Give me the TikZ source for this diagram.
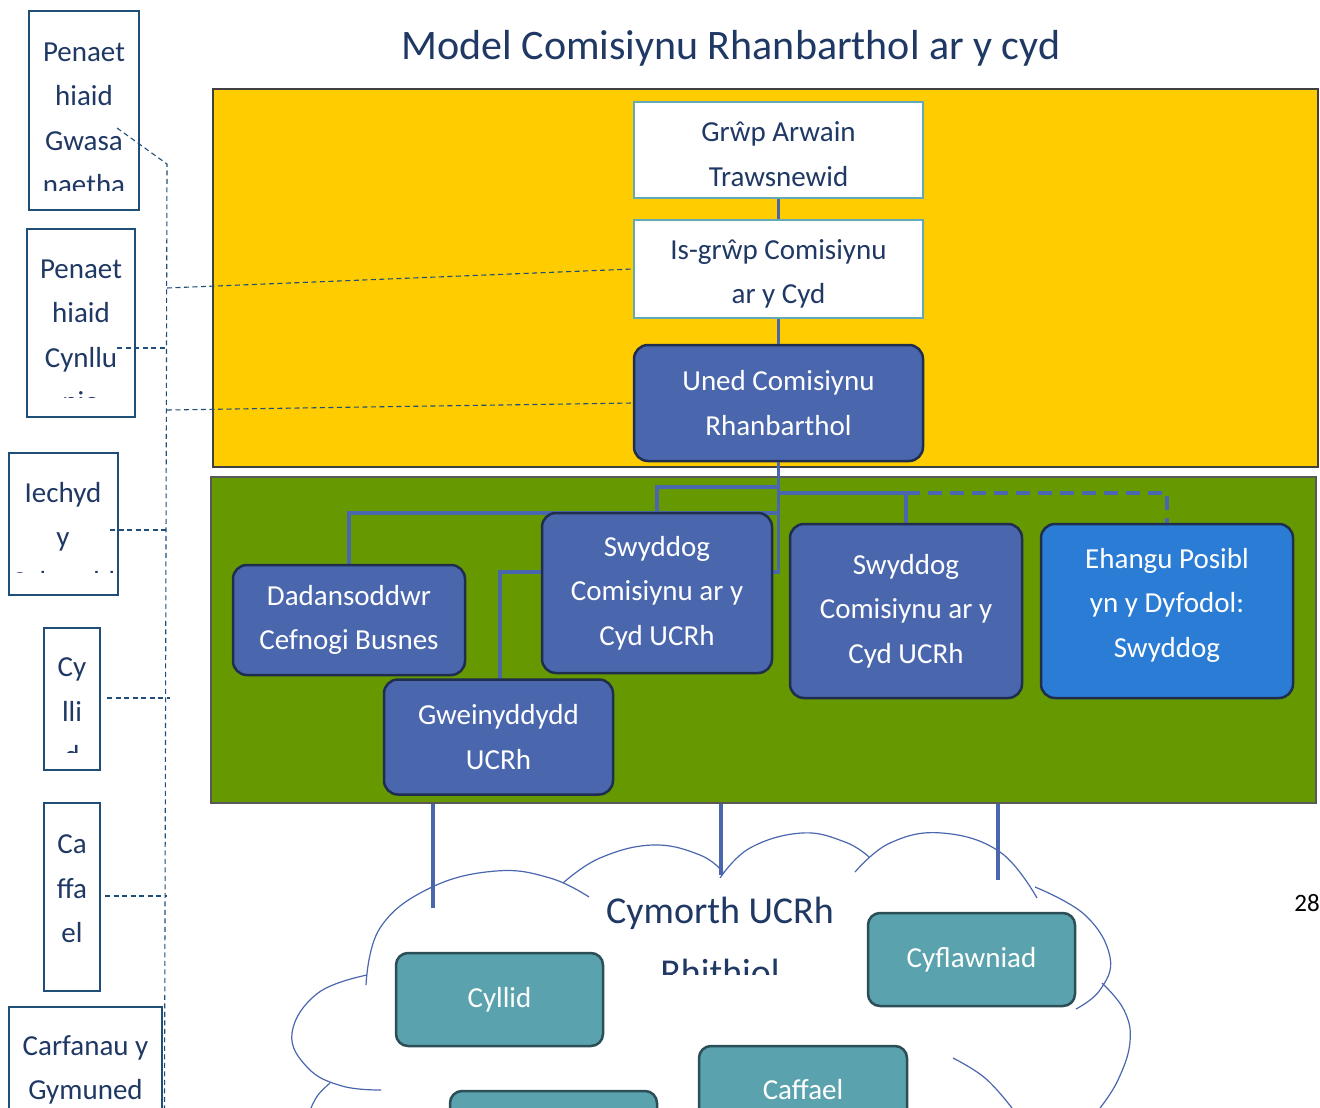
\documentclass[tikz,border=0pt]{standalone}
\usepackage{fontspec}
\setmainfont{Carlito}
\definecolor{navy}{HTML}{1F3864}
\definecolor{yelc}{HTML}{FFCC00}
\definecolor{grnc}{HTML}{669900}
\definecolor{wbord}{HTML}{62A9BA}
\definecolor{ublue}{HTML}{4A67AE}
\definecolor{bbord}{HTML}{1F2D4F}
\definecolor{ehb}{HTML}{2B7CD4}
\definecolor{teala}{HTML}{5AA2AD}
\definecolor{tbord}{HTML}{2C4E56}
\definecolor{lbord}{HTML}{1F4E79}
\begin{document}
\begin{tikzpicture}[x=1pt,y=-1pt,
  txt/.style={font=\fontsize{29}{44.5}\selectfont, align=center},
  wbox/.style={draw=wbord, line width=2pt, fill=white, inner sep=0pt},
  wtxt/.style={txt, text=navy, inner sep=0pt},
  bbox/.style={draw=bbord, line width=2.5pt, fill=ublue, text=white, rounded corners=14pt, txt, inner sep=0pt},
  btxt/.style={txt, text=white, inner sep=0pt},
  tbox/.style={draw=tbord, line width=2.5pt, fill=teala, text=white, rounded corners=12pt, txt, inner sep=0pt},
  lbox/.style={draw=lbord, line width=2pt, fill=white, inner sep=0pt},
  ltxt/.style={txt, text=navy, inner sep=0pt},
  conn/.style={draw=ublue, line width=3.5pt},
  dconn/.style={conn, dash pattern=on 14pt off 8pt},
  side/.style={draw=lbord, line width=1.1pt, dash pattern=on 5pt off 3.5pt},
  cloudl/.style={draw=ublue, line width=1.2pt}]
\clip (0,0) rectangle (1320,1108);
\fill[white] (0,0) rectangle (1320,1108);

% title
\node[font=\fontsize{42}{50}\selectfont, text=navy, inner sep=0pt] (title) at (731,48) {Model Comisiynu Rhanbarthol ar y cyd};

% panels
\node[draw=black!75, fill=yelc, line width=2.5pt, minimum width=1105, minimum height=378, inner sep=0pt] (yel) at (765.5,278) {};
\node[draw=black!65, fill=grnc, line width=2.5pt, minimum width=1105, minimum height=326, inner sep=0pt] (grn) at (763.5,640) {};

% cloud
\draw[cloudl] plot[smooth, tension=0.7] coordinates {(366,985) (380,928) (430,888) (496,871) (550,878) (589,897)};
\draw[cloudl] plot[smooth, tension=0.7] coordinates {(563,883) (600,858) (653,845) (700,855) (723,872)};
\draw[cloudl] plot[smooth, tension=0.7] coordinates {(720,878) (750,848) (802,833) (845,842) (869,857)};
\draw[cloudl] plot[smooth, tension=0.7] coordinates {(855,872) (890,843) (942,833) (1000,852) (1037,898)};
\draw[cloudl] plot[smooth, tension=0.7] coordinates {(1035,887) (1085,915) (1110,957) (1100,990) (1076,1009)};
\draw[cloudl] plot[smooth, tension=0.7] coordinates {(1102,983) (1124,1010) (1130,1042) (1118,1080) (1100,1108)};
\draw[cloudl] plot[smooth, tension=0.7] coordinates {(953,1058) (985,1078) (1012,1108)};
\draw[cloudl] plot[smooth, tension=0.7] coordinates {(367,975) (318,993) (292,1033) (308,1068) (342,1086) (381,1090)};
\draw[cloudl] plot[smooth, tension=0.7] coordinates {(330,1083) (318,1095) (311,1108)};

\node[font=\fontsize{38}{45}\selectfont, text=navy, inner sep=0pt] (cym) at (720,913) {Cymorth UCRh};
\begin{scope}
\clip (600,930) rectangle (840,974);
\node[font=\fontsize{38}{45}\selectfont, text=navy, inner sep=0pt] (rhi) at (720,972) {Rhithiol};
\end{scope}

% connectors
\coordinate (ja) at (778.5,572);
\coordinate (jb) at (778.5,487);
\coordinate (jc) at (778.5,513);
\coordinate (jd) at (778.5,493);
\coordinate (k1) at (433,908);
\coordinate (k2) at (721,875);
\coordinate (k3) at (998,880);

\node[wbox, minimum width=289, minimum height=96] (g1) at (778.5,150) {};
\node[wtxt] (g1t) at (778.5,154) {Grŵp Arwain\\Trawsnewid};
\node[wbox, minimum width=289, minimum height=98] (g2) at (778.5,269) {};
\node[wtxt] (g2t) at (778.5,274) {Is-grŵp Comisiynu\\ar y Cyd};
\node[bbox, minimum width=289, minimum height=116] (uned) at (778.5,403) {Uned Comisiynu\\Rhanbarthol};
\draw[conn] (g1.south) -- (g2.north);
\draw[conn] (g2.south) -- (uned.north);

\draw[conn] (uned.south) -- (ja) -| (500,681);
\draw[conn] (jb) -| (657,512);
\draw[conn] (jc) -| (349,564);
\draw[conn] (jd) -| (906,524);
\draw[dconn] (906,493) -| (1167,524);
\draw[conn] (k1 |- grn.south) -- (k1);
\draw[conn] (k2 |- grn.south) -- (k2);
\draw[conn] (k3 |- grn.south) -- (k3);

\node[bbox, minimum width=232, minimum height=110] (dad) at (349,620) {Dadansoddwr\\Cefnogi Busnes};
\node[bbox, minimum width=230, minimum height=160] (sw1) at (657,593) {Swyddog\\Comisiynu ar y\\Cyd UCRh};
\node[bbox, minimum width=232, minimum height=174] (sw2) at (906,611) {Swyddog\\Comisiynu ar y\\Cyd UCRh};
\node[bbox, fill=ehb, minimum width=252, minimum height=174] (eh) at (1167,611) {};
\node[btxt] (eht) at (1167,605) {Ehangu Posibl\\yn y Dyfodol:\\Swyddog};
\node[bbox, minimum width=229, minimum height=115] (gw) at (498.5,737) {Gweinyddydd\\UCRh};

% cloud boxes
\node[tbox, minimum width=207, minimum height=93] (cyl) at (499.5,999.5) {Cyllid};
\node[tbox, minimum width=207, minimum height=93] (cyf) at (971.5,959.5) {Cyflawniad};
\node[tbox, minimum width=208, minimum height=94] (caf) at (803,1093) {};
\node[btxt] (caft) at (803,1090) {Caffael};
\node[tbox, minimum width=207, minimum height=93] (tb4) at (553.5,1137.5) {};

\node[font=\fontsize{25}{30}\selectfont, text=black, inner sep=0pt] (pg) at (1307,903) {28};

% left boxes
\node[lbox, minimum width=110, minimum height=199] (lb1) at (84,110.5) {};
\node[lbox, minimum width=108, minimum height=188] (lb2) at (81,323) {};
\node[lbox, minimum width=109, minimum height=142] (lb3) at (63.5,524) {};
\node[lbox, minimum width=56, minimum height=142] (lb4) at (72,699) {};
\node[lbox, minimum width=56, minimum height=188] (lb5) at (72,897) {};
\node[lbox, minimum width=153, minimum height=200] (lb6) at (85.5,1107) {};

\begin{scope}
\clip (30,12) rectangle (138,190);
\node[ltxt] (t1) at (84,119) {Penaet\\hiaid\\Gwasa\\naetha};
\end{scope}
\begin{scope}
\clip (28,230) rectangle (134,397);
\node[ltxt] (t2) at (81,336) {Penaet\\hiaid\\Cynllu\\nio};
\end{scope}
\begin{scope}
\clip (10,454) rectangle (117,572);
\node[ltxt] (t3) at (63,539) {Iechyd\\y\\Cyhoedd};
\end{scope}
\begin{scope}
\clip (45,629) rectangle (99,752);
\node[ltxt] (t4) at (72,712) {Cy\\lli\\d};
\end{scope}
\node[ltxt] (t5) at (72,889) {Ca\\ffa\\el};
\node[ltxt] (t6) at (85.5,1070) {Carfanau y\\Gymuned};

% dashed side connectors
\coordinate (vt) at (167,164);
\coordinate (vb) at (164.5,1108);
\coordinate (d1) at (117,128);
\coordinate (v2) at (167,288);
\coordinate (v3) at (167,410);
\coordinate (d4) at (117,348);
\coordinate (v4) at (167,348);
\coordinate (d5) at (110,530);
\coordinate (v5) at (167,530);
\coordinate (d6) at (107,698);
\coordinate (v6) at (170,698);
\coordinate (d7) at (105,896);
\coordinate (v7) at (167,896);
\draw[side] (d1) -- (vt) -- (vb);
\draw[side] (v2) -- (g2.west);
\draw[side] (v3) -- (uned.west);
\draw[side] (d4) -- (v4);
\draw[side] (d5) -- (v5);
\draw[side] (d6) -- (v6);
\draw[side] (d7) -- (v7);
\end{tikzpicture}
\end{document}
